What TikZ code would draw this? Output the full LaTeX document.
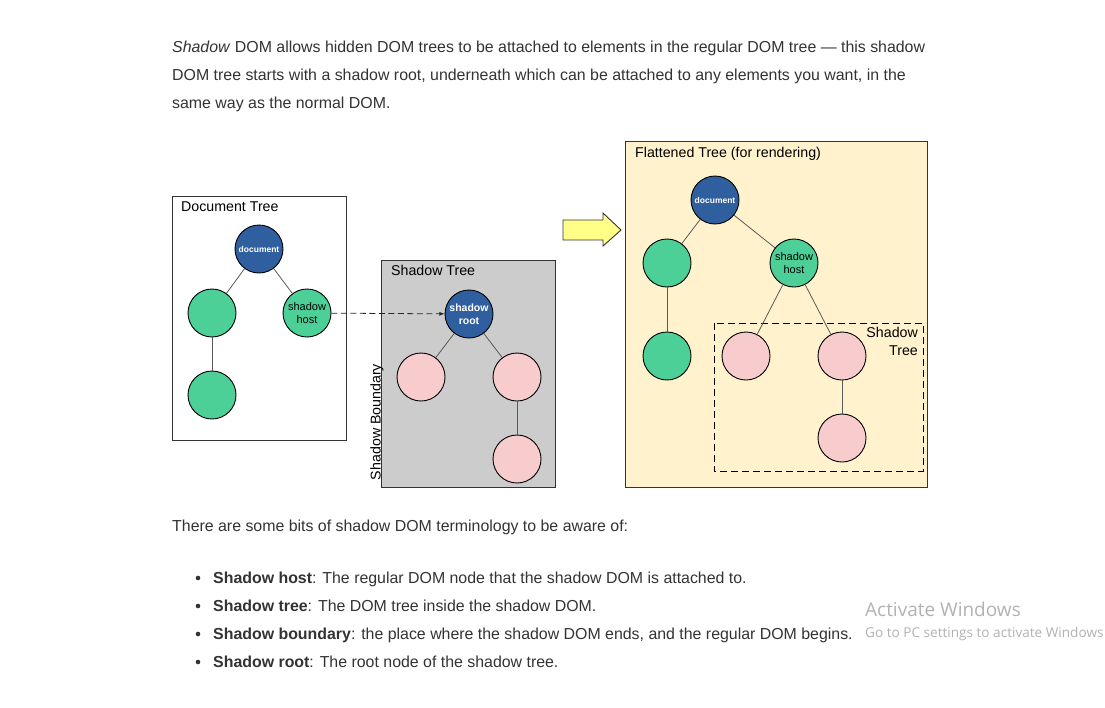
\documentclass[tikz,border=0pt]{standalone}
\usepackage{fontspec}
\setmainfont{Liberation Sans}
\newfontfamily\wmfont{Open Sans}
\definecolor{txtgray}{HTML}{333333}
\definecolor{domblue}{HTML}{2F5F9F}
\definecolor{hostgreen}{HTML}{4DCF98}
\definecolor{shpink}{HTML}{F8CBCD}
\definecolor{shgray}{HTML}{CCCCCC}
\definecolor{flatbeige}{HTML}{FFF2CC}
\definecolor{arrowyellow}{HTML}{FFFF88}
\tikzset{
  bodytext/.style={anchor=base west, inner sep=0pt, text=txtgray, font=\fontsize{15.9}{19}\selectfont},
  treebox/.style={draw=black!80, line width=0.9pt},
  boxlabel/.style={anchor=north west, inner sep=0pt, font=\fontsize{14.2}{16}\selectfont},
  treenode/.style={circle, draw=black, line width=0.9pt, minimum size=48pt, inner sep=0pt, align=center},
  docnode/.style={treenode, fill=domblue, text=white, font=\bfseries\fontsize{8.5}{10}\selectfont},
  rootnode/.style={treenode, fill=domblue, text=white, font=\bfseries\fontsize{10.5}{13}\selectfont},
  greennode/.style={treenode, fill=hostgreen, font=\fontsize{11}{13.5}\selectfont},
  pinknode/.style={treenode, fill=shpink},
  edge/.style={draw=black!65, line width=0.8pt}
}
\begin{document}
\begin{tikzpicture}[x=1pt, y=-1pt]
			%%%%% START %%%%%
			\useasboundingbox[fill=white] (0, 0) rectangle (1105, 707);
			
			% intro text
			\node[bodytext] (introa) at (172, 52) {\textit{Shadow} DOM allows hidden DOM trees to be attached to elements in the regular DOM tree --- this shadow};
			\node[bodytext] (introb) at (172, 80) {DOM tree starts with a shadow root, underneath which can be attached to any elements you want, in the};
			\node[bodytext] (introc) at (172, 108) {same way as the normal DOM.};
			
			% document tree
			\draw[treebox, fill=white] (172, 196) rectangle (346, 440);
			\node[boxlabel] (doclabel) at (181, 202) {Document Tree};
			\node[docnode] (doc) at (259, 249) {document};
			\node[greennode] (docleft) at (212, 313) {};
			\node[greennode] (dochost) at (307, 313) {shadow\\host};
			\node[greennode] (docleaf) at (212, 395) {};
			\draw[edge] (doc) -- (docleft);
			\draw[edge] (doc) -- (dochost);
			\draw[edge] (docleft) -- (docleaf);
			
			% shadow tree
			\draw[treebox, fill=shgray] (381, 260) rectangle (555, 487);
			\node[boxlabel] (shlabel) at (391, 265) {Shadow Tree};
			\node[rootnode] (shroot) at (469, 314) {shadow\\root};
			\node[pinknode] (shleft) at (421, 377) {};
			\node[pinknode] (shright) at (517, 377) {};
			\node[pinknode] (shleaf) at (517, 459) {};
			\draw[edge] (shroot) -- (shleft);
			\draw[edge] (shroot) -- (shright);
			\draw[edge] (shright) -- (shleaf);
			\node[rotate=90, inner sep=0pt, font=\fontsize{14.2}{16}\selectfont] (boundary) at (377, 422) {Shadow Boundary};
			
			\draw[line width=0.8pt, dash pattern=on 6pt off 3.5pt, -latex, black!85] (dochost) -- (shroot);
			
			% arrow to flattened tree
			\draw[draw=black!80, fill=arrowyellow, line width=0.9pt] (563, 220) -- (603, 220) -- (603, 213) -- (621, 230) -- (603, 246) -- (603, 240) -- (563, 240) -- cycle;
			
			% flattened tree
			\draw[treebox, fill=flatbeige] (625, 141) rectangle (927, 487);
			\node[boxlabel] (flatlabel) at (635, 147) {Flattened Tree (for rendering)};
			\draw[line width=1pt, dash pattern=on 7pt off 4pt] (714, 323) rectangle (923, 471);
			\node[anchor=north east, inner sep=0pt, align=right, font=\fontsize{14.2}{18}\selectfont] (flatshlabel) at (918, 327) {Shadow\\Tree};
			\node[docnode] (fdoc) at (715, 200) {document};
			\node[greennode] (fleft) at (667, 263) {};
			\node[greennode] (fhost) at (794, 263) {shadow\\host};
			\node[greennode] (fleaf) at (667, 356) {};
			\node[pinknode] (fpleft) at (746, 356) {};
			\node[pinknode] (fpright) at (842, 356) {};
			\node[pinknode] (fpleaf) at (842, 438) {};
			\draw[edge] (fdoc) -- (fleft);
			\draw[edge] (fdoc) -- (fhost);
			\draw[edge] (fleft) -- (fleaf);
			\draw[edge] (fhost) -- (fpleft);
			\draw[edge] (fhost) -- (fpright);
			\draw[edge] (fpright) -- (fpleaf);
			
			% terminology
			\node[bodytext] (terms) at (172, 531) {There are some bits of shadow DOM terminology to be aware of:};
			\foreach \y/\term/\desc in {583/Shadow host/{The regular DOM node that the shadow DOM is attached to.},
			                           611/Shadow tree/{The DOM tree inside the shadow DOM.},
			                           639/Shadow boundary/{the place where the shadow DOM ends, and the regular DOM begins.},
			                           667/Shadow root/{The root node of the shadow tree.}}{
			  \fill[txtgray] (198, \y-5) circle (2.3);
			  \node[bodytext] at (213, \y) {\textbf{\term}: \desc};
			}
			
			% watermark
			\node[anchor=base west, inner sep=0pt, text=black!30, font=\wmfont\fontsize{19}{21}\selectfont] (watermarka) at (865, 616) {Activate Windows};
			\node[anchor=base west, inner sep=0pt, text=black!30, font=\wmfont\fontsize{13.6}{15}\selectfont] (watermarkb) at (865, 637) {Go to PC settings to activate Windows};
			%%%%% END %%%%%
		\end{tikzpicture}
\end{document}
